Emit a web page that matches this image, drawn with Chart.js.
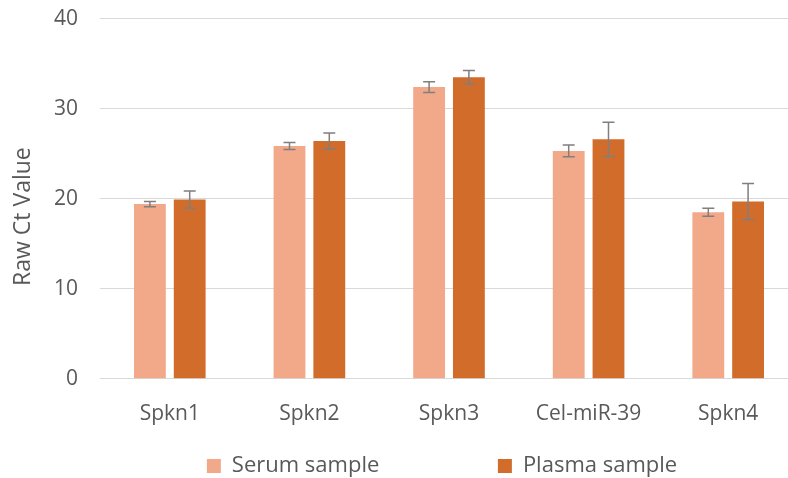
<!DOCTYPE html>
<html>
<head>
<meta charset="utf-8">
<script src="https://cdn.jsdelivr.net/npm/chart.js@4/dist/chart.umd.min.js"></script>
<style>
  html, body { margin: 0; padding: 0; background: #fff; overflow: hidden; }
  #wrap { width: 800px; height: 478px; }
</style>
</head>
<body>
<div id="wrap"><canvas id="chart" width="800" height="478"></canvas></div>
<script>
// データ
const categories = ["Spkn1", "Spkn2", "Spkn3", "Cel-miR-39", "Spkn4"];
const serumValues = [19.4, 25.85, 32.4, 25.3, 18.5];
const serumErrors = [0.3, 0.4, 0.6, 0.65, 0.45];
const plasmaValues = [19.9, 26.4, 33.5, 26.6, 19.7];
const plasmaErrors = [0.95, 0.9, 0.75, 1.9, 2.0];
const yTicks = [0, 10, 20, 30, 40];

// エラーバー描画用プラグイン
const errorBars = {
    id: "errorBars",
    afterDatasetsDraw(chart) {
        const ctx = chart.ctx;
        const y = chart.scales.y;
        chart.data.datasets.forEach((ds, i) => {
            const meta = chart.getDatasetMeta(i);
            meta.data.forEach((bar, j) => {
                const v = ds.data[j], e = ds.errors[j];
                const top = y.getPixelForValue(v + e);
                const bot = y.getPixelForValue(v - e);
                ctx.save();
                ctx.strokeStyle = "#7f7f7f";
                ctx.lineWidth = 1.5;
                ctx.beginPath();
                ctx.moveTo(bar.x, top); ctx.lineTo(bar.x, bot);
                ctx.moveTo(bar.x - 6, top); ctx.lineTo(bar.x + 6, top);
                ctx.moveTo(bar.x - 6, bot); ctx.lineTo(bar.x + 6, bot);
                ctx.stroke();
                ctx.restore();
            });
        });
    }
};

// 凡例の位置を少し右・下へずらす
const legendShift = {
    id: "legendShift",
    afterLayout(chart) {
        const lg = chart.legend;
        lg.left += 40; lg.right += 40;
        lg.top += 3; lg.bottom += 3;
    }
};

const font = { family: "'Open Sans', sans-serif", size: 21 };
const legendFont = { family: "'Open Sans', sans-serif", size: 22 };

new Chart(document.getElementById("chart"), {
    type: "bar",
    data: {
        labels: categories,
        datasets: [
            { label: "Serum sample", data: serumValues, errors: serumErrors, backgroundColor: "#f2a98a" },
            { label: "Plasma sample", data: plasmaValues, errors: plasmaErrors, backgroundColor: "#d26c2b" }
        ]
    },
    options: {
        responsive: false,
        animation: false,
        layout: { padding: { top: 0, left: 6, right: 2, bottom: -6 } },
        datasets: { bar: { categoryPercentage: 0.57, barPercentage: 0.8 } },
        scales: {
            x: {
                grid: { display: false },
                border: { display: false },
                ticks: { color: "#595959", font: font, padding: 15 }
            },
            y: {
                min: 0, max: 40,
                afterBuildTicks: (axis) => { axis.ticks = yTicks.map(v => ({ value: v })); },
                afterFit: (axis) => { axis.width = 94; },
                grid: { color: "#d9d9d9", drawTicks: true, tickLength: 16, tickColor: "rgba(0,0,0,0)" },
                border: { display: false },
                ticks: { color: "#595959", font: font, padding: 6 },
                title: {
                    display: true, text: "Raw Ct Value" + "\u00a0".repeat(6), color: "#595959",
                    font: { family: "'Open Sans', sans-serif", size: 23 }, padding: { top: 4, bottom: 2 }
                }
            }
        },
        plugins: {
            legend: {
                position: "bottom",
                labels: {
                    color: "#595959", font: legendFont, boxWidth: 14, boxHeight: 14, padding: 10,
                    generateLabels(chart) {
                        const items = Chart.defaults.plugins.legend.labels.generateLabels(chart);
                        items[0].text += "\u00a0".repeat(19);
                        return items;
                    }
                }
            },
            tooltip: { enabled: false }
        }
    },
    plugins: [errorBars, legendShift]
});
</script>
</body>
</html>
